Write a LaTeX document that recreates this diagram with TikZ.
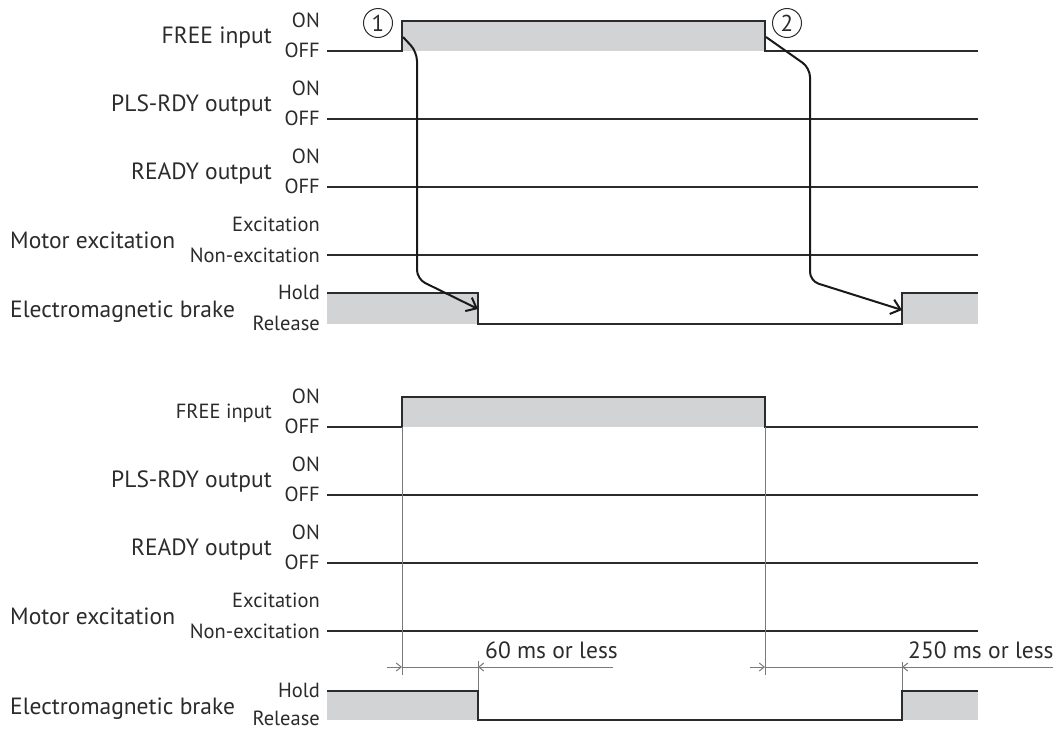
\documentclass[tikz,border=0pt]{standalone}
\usepackage{fontspec}
\setmainfont{PT Sans}
\usetikzlibrary{arrows.meta}
\definecolor{sig}{HTML}{2B2B2B}
\definecolor{fillg}{HTML}{D1D3D4}
\definecolor{dimg}{HTML}{7A7A7A}
\begin{document}
\begin{tikzpicture}[x=1pt,y=-1pt,
  lab/.style={inner sep=0pt, anchor=base east, font=\fontsize{23.5}{23.5}\selectfont, text=sig},
  labs/.style={inner sep=0pt, anchor=base east, font=\fontsize{20.5}{20.5}\selectfont, text=sig},
  labl/.style={inner sep=0pt, anchor=base west, font=\fontsize{23.5}{23.5}\selectfont, text=sig},
  lvl/.style={inner sep=0pt, anchor=base east, font=\fontsize{20.5}{20.5}\selectfont, text=sig},
  sigline/.style={draw=sig, line width=1.3pt},
  hi/.style={fill=fillg},
  cause/.style={draw=black!90, line width=2pt, rounded corners=9pt, -{Straight Barb[length=9pt,width=15pt,line width=2pt]}},
  dim/.style={draw=dimg, line width=1pt},
  dimarr/.style={dim, -{Straight Barb[length=5pt,width=8pt,line width=1pt]}},
  num/.style={draw=sig, circle, line width=1pt, minimum size=29pt, inner sep=0pt, font=\fontsize{23}{23}\selectfont, text=sig}
]
\useasboundingbox (0,0) rectangle (1056,729);

% ===== Top diagram =====
\node[lab] (tFree) at (272,43) {FREE input};
\node[lvl] (tFreeOn) at (320,27) {ON};
\node[lvl] (tFreeOff) at (320,57) {OFF};
\fill[hi] (402,21) rectangle (765,51);
\draw[sigline] (327,51) -- (402,51) -- (402,21) -- (765,21) -- (765,51) -- (978,51);

\node[lab] (tPls) at (272,111) {PLS-RDY output};
\node[lvl] (tPlsOn) at (320,95) {ON};
\node[lvl] (tPlsOff) at (320,125) {OFF};
\draw[sigline] (327,119) -- (978,119);

\node[lab] (tRdy) at (272,179) {READY output};
\node[lvl] (tRdyOn) at (320,163) {ON};
\node[lvl] (tRdyOff) at (320,193) {OFF};
\draw[sigline] (327,187) -- (978,187);

\node[labl] (tMot) at (10,248) {Motor excitation};
\node[lvl] (tMotOn) at (320,231) {Excitation};
\node[lvl] (tMotOff) at (320,262) {Non-excitation};
\draw[sigline] (327,255) -- (978,255);

\node[labl] (tBrk) at (10,317) {Electromagnetic brake};
\node[lvl] (tBrkOn) at (320,299) {Hold};
\node[lvl] (tBrkOff) at (320,330) {Release};
\fill[hi] (327,293) rectangle (478,324);
\fill[hi] (902,293) rectangle (978,324);
\draw[sigline] (327,293) -- (478,293) -- (478,324) -- (902,324) -- (902,293) -- (978,293);

\node[num] (c1) at (378,23) {1};
\node[num] (c2) at (787,23) {2};

\coordinate (a1s) at (403,37);
\coordinate (a1e) at (478,309);
\coordinate (a2s) at (766,37);
\coordinate (a2e) at (902,310);
\draw[cause] (a1s) -- (417,52) -- (417,279) -- (a1e);
\draw[cause] (a2s) -- (810,68) -- (810,281) -- (a2e);

% ===== Bottom diagram =====
\node[labs] (bFree) at (272,418) {FREE input};
\node[lvl] (bFreeOn) at (320,403) {ON};
\node[lvl] (bFreeOff) at (320,433) {OFF};
\fill[hi] (402,397) rectangle (765,427);
\draw[sigline] (327,427) -- (402,427) -- (402,397) -- (765,397) -- (765,427) -- (978,427);

\node[lab] (bPls) at (272,487) {PLS-RDY output};
\node[lvl] (bPlsOn) at (320,471) {ON};
\node[lvl] (bPlsOff) at (320,501) {OFF};
\draw[sigline] (327,495) -- (978,495);

\node[lab] (bRdy) at (272,555) {READY output};
\node[lvl] (bRdyOn) at (320,539) {ON};
\node[lvl] (bRdyOff) at (320,569) {OFF};
\draw[sigline] (327,563) -- (978,563);

\node[labl] (bMot) at (10,624) {Motor excitation};
\node[lvl] (bMotOn) at (320,607) {Excitation};
\node[lvl] (bMotOff) at (320,638) {Non-excitation};
\draw[sigline] (327,631) -- (978,631);

\node[labl] (bBrk) at (10,714) {Electromagnetic brake};
\node[lvl] (bBrkOn) at (320,697) {Hold};
\node[lvl] (bBrkOff) at (320,725) {Release};
\fill[hi] (327,691) rectangle (478,720);
\fill[hi] (902,691) rectangle (978,720);

% dimension lines
\draw[dim] (402,427) -- (402,675);
\draw[dim] (765,427) -- (765,675);
\draw[dim] (478,661) -- (478,691);
\draw[dim] (902,662) -- (902,691);
\draw[dimarr] (387,667) -- (402,667);
\draw[dim] (402,667) -- (478,667);
\draw[dimarr] (613,667) -- (478,667);
\draw[dimarr] (750,667) -- (765,667);
\draw[dim] (765,667) -- (902,667);
\draw[dimarr] (1053,667) -- (902,667);
\node[labl] (d1) at (485,658) {60 ms or less};
\node[labl] (d2) at (908,658) {250 ms or less};

\draw[sigline] (327,691) -- (478,691) -- (478,720) -- (902,720) -- (902,691) -- (978,691);
\end{tikzpicture}
\end{document}
